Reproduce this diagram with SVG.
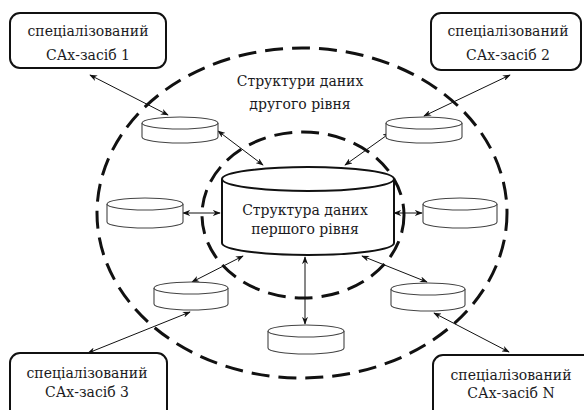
<svg xmlns="http://www.w3.org/2000/svg" width="584" height="410" viewBox="0 0 584 410">
<style>
.bg{fill:#ffffff}
.box{fill:#ffffff;stroke:#111;stroke-width:2}
.dash{fill:none;stroke:#111;stroke-width:3;stroke-dasharray:18 9}
.cyl{fill:#ffffff;stroke:#444;stroke-width:1.1}
.big{fill:#ffffff;stroke:#111;stroke-width:2}
.lbl{font-family:'DejaVu Serif',serif;font-size:14px;fill:#1a1a22;text-anchor:middle}
.arr{fill:none;stroke:#111;stroke-width:1;marker-start:url(#ah);marker-end:url(#ah)}
</style>
<defs>
<marker id="ah" viewBox="0 0 10 10" refX="9" refY="5" markerWidth="8" markerHeight="6" markerUnits="userSpaceOnUse" orient="auto-start-reverse" preserveAspectRatio="none">
<path d="M0,0 L10,5 L0,10 L3,5 Z" fill="#111"/>
</marker>
</defs>
<rect class="bg" x="0" y="0" width="584" height="410"/>

<g id="outer-region">
<ellipse class="dash" cx="302" cy="213" rx="205" ry="165"/>
<text class="lbl" x="300" y="86">Структури даних</text>
<text class="lbl" x="300" y="109">другого рівня</text>
</g>
<g id="inner-region">
<ellipse class="dash" cx="303" cy="215" rx="101" ry="83"/>
</g>

<g id="connectors">
<line class="arr" x1="90" y1="75" x2="168" y2="115"/>
<line class="arr" x1="218" y1="131" x2="263" y2="165"/>
<line class="arr" x1="510" y1="75" x2="424" y2="116"/>
<line class="arr" x1="390" y1="133" x2="345" y2="165"/>
<line class="arr" x1="183" y1="213" x2="220" y2="213"/>
<line class="arr" x1="394" y1="213" x2="422" y2="213"/>
<line class="arr" x1="192" y1="282" x2="243" y2="256"/>
<line class="arr" x1="190" y1="312" x2="88" y2="353"/>
<line class="arr" x1="305" y1="257" x2="305" y2="324"/>
<line class="arr" x1="362" y1="256" x2="427" y2="282"/>
<line class="arr" x1="434" y1="313" x2="509" y2="352"/>
</g>

<g id="tool-1">
<rect class="box" x="10" y="13" width="156" height="55" rx="10"/>
<text class="lbl" x="88" y="36">спеціалізований</text>
<text class="lbl" x="88" y="60">САх-засіб 1</text>
</g>
<g id="tool-2">
<rect class="box" x="431" y="13" width="150" height="57" rx="10"/>
<text class="lbl" x="508" y="36">спеціалізований</text>
<text class="lbl" x="508" y="60">САх-засіб 2</text>
</g>
<g id="tool-3">
<rect class="box" x="10" y="353" width="157" height="70" rx="10"/>
<text class="lbl" x="87" y="378">спеціалізований</text>
<text class="lbl" x="87" y="397">САх-засіб 3</text>
</g>
<g id="tool-n">
<rect class="box" x="433" y="355" width="170" height="70" rx="10"/>
<text class="lbl" x="511" y="380">спеціалізований</text>
<text class="lbl" x="511" y="398">САх-засіб N</text>
</g>

<g id="level1-store">
<path class="big" d="M222,179 L222,243 A86,12 0 0 0 394,243 L394,179"/>
<ellipse class="big" cx="308" cy="179" rx="86" ry="12"/>
<text class="lbl" x="305" y="215">Структура даних</text>
<text class="lbl" x="305" y="234">першого рівня</text>
</g>

<g id="store-1">
<path class="cyl" d="M142,123 L142,137 A38,6 0 0 0 218,137 L218,123"/>
<ellipse class="cyl" cx="180" cy="123" rx="38" ry="6"/>
</g>
<g id="store-2">
<path class="cyl" d="M107,204 L107,222 A38,6 0 0 0 183,222 L183,204"/>
<ellipse class="cyl" cx="145" cy="204" rx="38" ry="6"/>
</g>
<g id="store-3">
<path class="cyl" d="M423,204 L423,222 A37,6 0 0 0 497,222 L497,204"/>
<ellipse class="cyl" cx="460" cy="204" rx="37" ry="6"/>
</g>
<g id="store-4">
<path class="cyl" d="M386,123 L386,137 A38,6 0 0 0 462,137 L462,123"/>
<ellipse class="cyl" cx="424" cy="123" rx="38" ry="6"/>
</g>
<g id="store-5">
<path class="cyl" d="M154,288 L154,304 A37,6 0 0 0 228,304 L228,288"/>
<ellipse class="cyl" cx="191" cy="288" rx="37" ry="6"/>
</g>
<g id="store-6">
<path class="cyl" d="M391,289 L391,305 A37,6 0 0 0 465,305 L465,289"/>
<ellipse class="cyl" cx="428" cy="289" rx="37" ry="6"/>
</g>
<g id="store-7">
<path class="cyl" d="M268,331 L268,348 A38,6 0 0 0 344,348 L344,331"/>
<ellipse class="cyl" cx="306" cy="331" rx="38" ry="6"/>
</g>
</svg>
